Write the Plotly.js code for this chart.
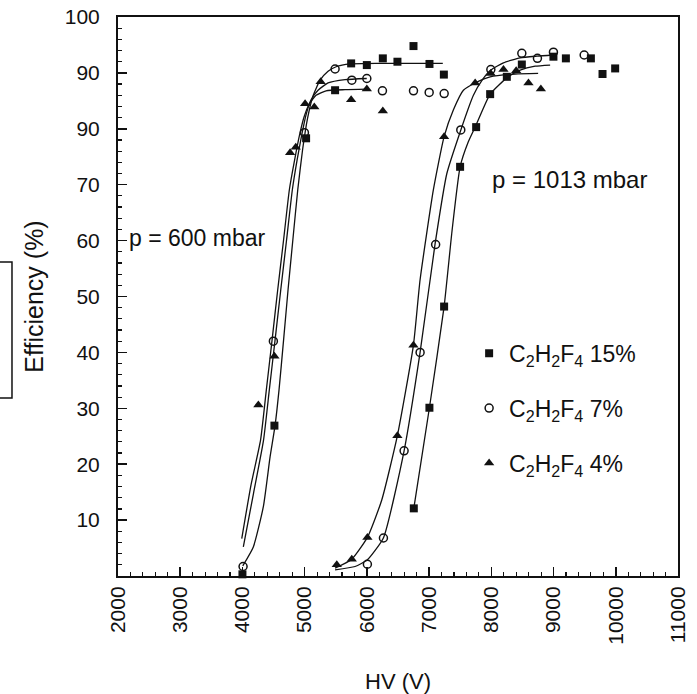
<!DOCTYPE html>
<html>
<head>
<meta charset="utf-8">
<script src="https://cdn.plot.ly/plotly-3.0.1.min.js"></script>
<style>html,body{margin:0;padding:0;background:#fff;}#chart{width:697px;height:694px;}</style>
</head>
<body>
<div id="chart"></div>
<script>
// ---- Tick labels ----
const xTickVals = [2000, 3000, 4000, 5000, 6000, 7000, 8000, 9000, 10000, 11000];
const xTickText = ['2000', '3000', '4000', '5000', '6000', '7000', '8000', '9000', '10000', '11000'];
const yTickVals = [10, 20, 30, 40, 50, 60, 70, 80, 90, 100];
const yTickText = ['10', '20', '30', '40', '50', '60', '70', '90', '90', '100'];

// ---- Series names ----
const seriesNames = ['C<sub>2</sub>H<sub>2</sub>F<sub>4</sub> 15%', 'C<sub>2</sub>H<sub>2</sub>F<sub>4</sub> 7%', 'C<sub>2</sub>H<sub>2</sub>F<sub>4</sub> 4%'];

// ---- Measured points, p = 600 mbar ----
const sq600X = [4000, 4514, 5023, 5489, 5747, 5999, 6256, 6491, 6749, 7006, 7237];
const sq600Y = [0.3, 26.9, 78.3, 86.9, 91.7, 91.4, 92.6, 92.0, 94.8, 91.6, 89.7];
const ci600X = [4010, 4497, 4996, 5489, 5758, 5999, 6250, 6749, 7001, 7242];
const ci600Y = [1.7, 42.0, 79.3, 90.7, 88.7, 89.0, 86.8, 86.8, 86.5, 86.3];
const tr600X = [4256, 4514, 4766, 4857, 5007, 5155, 5257, 5747, 5999, 6256];
const tr600Y = [30.6, 39.3, 75.7, 76.7, 84.5, 83.9, 88.4, 85.2, 87.1, 83.2];

// ---- Measured points, p = 1013 mbar ----
const sq1013X = [6754, 7005, 7241, 7498, 7756, 7981, 8249, 8490, 8998, 9198, 9600, 9787, 9990];
const sq1013Y = [12.1, 30.1, 48.2, 73.2, 80.3, 86.2, 89.3, 91.5, 92.9, 92.6, 92.6, 89.8, 90.8];
const ci1013X = [6008, 6266, 6598, 6855, 7105, 7509, 7992, 8490, 8741, 8998, 9492];
const ci1013Y = [2.1, 6.8, 22.4, 40.0, 59.3, 79.8, 90.6, 93.5, 92.6, 93.7, 93.2];
const tr1013X = [5516, 5757, 6008, 6490, 6748, 7241, 7740, 7990, 8195, 8399, 8597, 8796];
const tr1013Y = [2.0, 3.0, 6.9, 25.1, 41.3, 78.6, 88.2, 89.9, 90.6, 90.4, 88.2, 87.1];

// ---- Fitted curves ----
const fitSq600X = [4005, 4175, 4336, 4444, 4524, 4588, 4661, 4733, 4810, 4889, 4966, 5047, 5135, 5248, 5376, 5505, 5730, 6212, 7220];
const fitSq600Y = [1.8, 5.2, 12.4, 21.3, 26.9, 33.3, 42.2, 51.2, 60.1, 69.1, 76.2, 81.9, 85.9, 88.7, 90.3, 91.1, 91.6, 91.7, 91.7];
const fitCi600X = [4014, 4178, 4339, 4432, 4524, 4616, 4709, 4802, 4878, 4953, 5022, 5103, 5215, 5376, 5649, 5998];
const fitCi600Y = [5.2, 14.8, 24.3, 33.3, 42.2, 51.2, 60.1, 69.1, 74.4, 78.9, 82.5, 85.2, 86.9, 88.2, 88.8, 89.0];
const fitTr600X = [3989, 4138, 4291, 4384, 4476, 4567, 4661, 4754, 4838, 4918, 4990, 5071, 5183, 5344, 5649, 5998];
const fitTr600Y = [6.7, 16.3, 24.3, 33.3, 42.2, 51.2, 60.1, 69.1, 74.4, 78.9, 82.1, 84.4, 86.0, 86.8, 87.0, 87.1];

const fitSq1013X = [6754, 7005, 7241, 7370, 7498, 7627, 7756, 7981, 8259, 8463, 8704, 8945];
const fitSq1013Y = [12.1, 30.1, 48.2, 61.9, 73.2, 77.6, 80.7, 86.2, 89.2, 90.5, 91.2, 91.4];
const fitCi1013X = [5489, 5810, 6008, 6265, 6598, 6855, 7096, 7285, 7510, 7712, 7852, 7992, 8194, 8463, 8736, 8993];
const fitCi1013Y = [1.1, 1.7, 2.9, 6.8, 22.4, 40.0, 59.4, 72.0, 79.8, 86.0, 88.7, 90.5, 91.8, 92.7, 93.0, 93.2];
const fitTr1013X = [5489, 5757, 6008, 6239, 6490, 6748, 6855, 7069, 7241, 7391, 7551, 7739, 7981, 8383, 8752];
const fitTr1013Y = [1.4, 3.0, 6.9, 13.6, 25.1, 41.3, 53.0, 69.1, 78.6, 83.4, 86.9, 88.2, 89.3, 89.8, 89.9];

const INK = '#111111';
const FONT = 'Liberation Sans, Arial, Helvetica, sans-serif';

function pointTrace(xs, ys, name, marker, group) {
  return {
    x: xs, y: ys, name: name, type: 'scatter', mode: 'markers',
    marker: marker, legendgroup: group, cliponaxis: false, hoverinfo: 'x+y'
  };
}
function fitTrace(xs, ys) {
  return {
    x: xs, y: ys, type: 'scatter', mode: 'lines', showlegend: false, hoverinfo: 'skip',
    line: {color: INK, width: 1.3, shape: 'spline', smoothing: 0.5}
  };
}

const data = [
  pointTrace(sq600X.concat(sq1013X), sq600Y.concat(sq1013Y), seriesNames[0],
    {symbol: 'square', size: 8, color: INK}, 'g1'),
  pointTrace(ci600X.concat(ci1013X), ci600Y.concat(ci1013Y), seriesNames[1],
    {symbol: 'circle-open', size: 8, color: INK, line: {width: 1.5, color: INK}}, 'g2'),
  pointTrace(tr600X.concat(tr1013X), tr600Y.concat(tr1013Y), seriesNames[2],
    {symbol: 'triangle-up', size: 9, color: INK}, 'g3'),
  fitTrace(fitSq600X, fitSq600Y),
  fitTrace(fitCi600X, fitCi600Y),
  fitTrace(fitTr600X, fitTr600Y),
  fitTrace(fitSq1013X, fitSq1013Y),
  fitTrace(fitCi1013X, fitCi1013Y),
  fitTrace(fitTr1013X, fitTr1013Y)
];

const layout = {
  width: 697, height: 694,
  margin: {l: 118, r: 19, t: 17, b: 118, pad: 0},
  paper_bgcolor: '#ffffff', plot_bgcolor: '#ffffff',
  font: {family: FONT, size: 21, color: INK},
  showlegend: true,
  legend: {
    x: 0.627, y: 0.437, xanchor: 'left', yanchor: 'top',
    font: {family: FONT, size: 23, color: INK},
    bgcolor: 'rgba(0,0,0,0)', borderwidth: 0, tracegroupgap: 22
  },
  xaxis: {
    range: [2000, 11000], tickvals: xTickVals, ticktext: xTickText, tickangle: -90,
    ticks: 'inside', ticklen: 9, tickwidth: 1.5, tickcolor: INK,
    tickfont: {family: FONT, size: 21, color: INK},
    showline: true, linewidth: 2, linecolor: INK, mirror: true,
    showgrid: false, zeroline: false,
    minor: {dtick: 200, tick0: 2000, ticks: 'inside', ticklen: 4, tickwidth: 1.2, tickcolor: INK, showgrid: false},
    title: {text: 'HV (V)', font: {family: FONT, size: 22, color: INK}, standoff: 38}
  },
  yaxis: {
    range: [0, 100], tickvals: yTickVals, ticktext: yTickText,
    ticks: 'inside', ticklen: 9, tickwidth: 1.5, tickcolor: INK,
    tickfont: {family: FONT, size: 21, color: INK},
    ticklabelstandoff: 12,
    showline: true, linewidth: 2, linecolor: INK, mirror: true,
    showgrid: false, zeroline: false,
    minor: {dtick: 2, tick0: 0, ticks: 'inside', ticklen: 4, tickwidth: 1.2, tickcolor: INK, showgrid: false},
    title: {text: 'Efficiency (%)', font: {family: FONT, size: 25, color: INK}, standoff: 14}
  },
  annotations: [
    {text: 'p = 600 mbar', x: 2145, y: 60.5, xref: 'x', yref: 'y', xanchor: 'left', yanchor: 'middle',
     showarrow: false, font: {family: FONT, size: 23, color: INK}},
    {text: 'p = 1013 mbar', x: 7981, y: 71.0, xref: 'x', yref: 'y', xanchor: 'left', yanchor: 'middle',
     showarrow: false, font: {family: FONT, size: 24, color: INK}}
  ],
  shapes: [
    {type: 'rect', xref: 'paper', yref: 'paper', x0: -0.215, x1: -0.1893, y0: 0.3184, y1: 0.5617,
     line: {color: INK, width: 1.5}, fillcolor: 'rgba(0,0,0,0)'}
  ]
};

Plotly.newPlot('chart', data, layout, {displayModeBar: false, staticPlot: true});
</script>
</body>
</html>
